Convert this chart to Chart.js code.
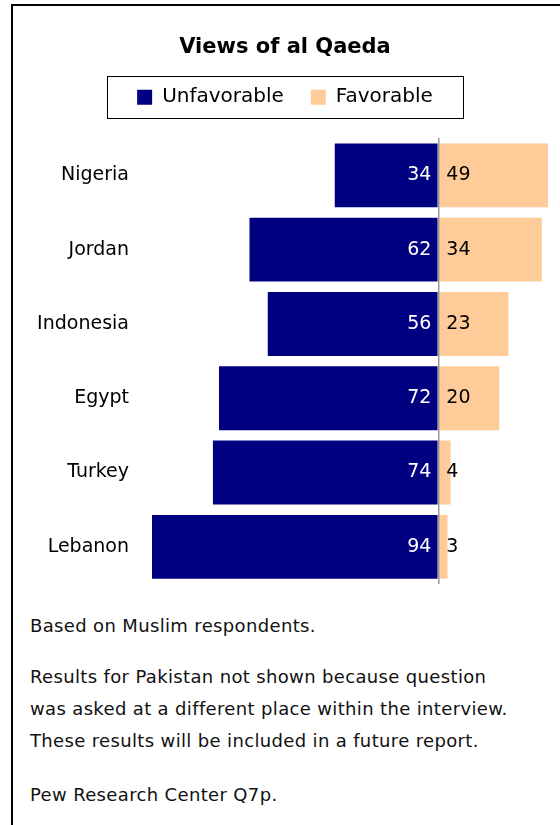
<!DOCTYPE html>
<html>
<head>
<meta charset="utf-8">
<script src="https://cdn.jsdelivr.net/npm/chart.js@4/dist/chart.umd.min.js"></script>
<style>
  body { margin: 0; background: #fff; width: 560px; height: 825px; overflow: hidden; position: relative; font-family: 'DejaVu Sans', sans-serif; }
  #frame { position: absolute; left: 11px; top: 4px; right: -10px; bottom: -10px; border-top: 2px solid #000; border-left: 2px solid #000; }
  #wrap { position: absolute; left: 0; top: 0; width: 560px; height: 600px; }
  .note { position: absolute; left: 30px; font-size: 18px; letter-spacing: 0.35px; color: #111; white-space: nowrap; }
</style>
</head>
<body>
<div id="frame"></div>
<div id="wrap"><canvas id="chart"></canvas></div>
<div class="note" style="top:615px;">Based on Muslim respondents.</div>
<div class="note" style="top:661px; line-height:32px;">Results for Pakistan not shown because question<br>was asked at a different place within the interview.<br>These results will be included in a future report.</div>
<div class="note" style="top:784px;">Pew Research Center Q7p.</div>

<script>
// --- data ---
const countries = ['Nigeria', 'Jordan', 'Indonesia', 'Egypt', 'Turkey', 'Lebanon'];
const unfavorable = [34, 62, 56, 72, 74, 94];
const favorable = [49, 34, 23, 20, 4, 3];

const NAVY = '#000080';
const PEACH = '#FFCC99';

Chart.defaults.font.family = "'DejaVu Sans', sans-serif";
Chart.defaults.color = '#000';

// value labels on the bars
const valueLabels = {
    id: 'valueLabels',
    afterDatasetsDraw(chart) {
        const ctx = chart.ctx;
        const zero = chart.scales.x.getPixelForValue(0);
        ctx.save();
        ctx.font = "19px 'DejaVu Sans', sans-serif";
        ctx.textBaseline = 'middle';
        chart.getDatasetMeta(0).data.forEach((bar, i) => {
            ctx.fillStyle = '#fff';
            ctx.textAlign = 'right';
            ctx.fillText(unfavorable[i], zero - 7, bar.y);
        });
        chart.getDatasetMeta(1).data.forEach((bar, i) => {
            ctx.fillStyle = '#000';
            ctx.textAlign = 'left';
            ctx.fillText(favorable[i], zero + 8, bar.y);
        });
        ctx.restore();
    }
};

// box round the legend
const legendBox = {
    id: 'legendBox',
    afterDraw(chart) {
        const hb = chart.legend.legendHitBoxes;
        if (!hb || !hb.length) return;
        const last = hb[hb.length - 1];
        const ctx = chart.ctx;
        ctx.save();
        ctx.strokeStyle = '#000';
        ctx.lineWidth = 1;
        const x0 = hb[0].left - 30, x1 = last.left + last.width + 30;
        const y0 = hb[0].top - 11, y1 = hb[0].top + hb[0].height + 11;
        ctx.strokeRect(Math.round(x0) + 0.5, Math.round(y0) + 0.5, Math.round(x1 - x0), Math.round(y1 - y0));
        ctx.restore();
    }
};

new Chart(document.getElementById('chart'), {
    type: 'bar',
    data: {
        labels: countries,
        datasets: [
            { label: 'Unfavorable', data: unfavorable.map(v => -v), backgroundColor: NAVY },
            { label: 'Favorable', data: favorable, backgroundColor: PEACH }
        ]
    },
    options: {
        indexAxis: 'y',
        responsive: true,
        maintainAspectRatio: false,
        animation: false,
        layout: { padding: { left: 22, right: 12, top: 0, bottom: 16 } },
        datasets: { bar: { barPercentage: 0.86, categoryPercentage: 1 } },
        scales: {
            x: {
                stacked: true,
                position: 'top',
                min: -94,
                max: 36,
                afterBuildTicks: s => { s.ticks = [{ value: 0 }]; },
                afterFit: s => { s.height = 21; },
                ticks: { display: false },
                border: { display: false },
                grid: { color: '#999', lineWidth: 1.5, drawTicks: false, z: 1 }
            },
            y: {
                stacked: true,
                afterFit: s => { s.width = 130; s.paddingTop = 0; s.paddingBottom = 0; },
                border: { display: false },
                grid: { display: false, drawTicks: false },
                ticks: { padding: 23, color: '#000', font: { size: 19 } }
            }
        },
        plugins: {
            title: {
                display: true,
                text: 'Views of al Qaeda',
                color: '#000',
                font: { size: 21, weight: 'bold' },
                padding: { top: 35, bottom: 0 }
            },
            legend: {
                display: true,
                position: 'top',
                labels: { boxWidth: 15, boxHeight: 15, padding: 27, color: '#000', font: { size: 20 } }
            },
            tooltip: { enabled: false }
        }
    },
    plugins: [valueLabels, legendBox]
});
</script>
</body>
</html>
